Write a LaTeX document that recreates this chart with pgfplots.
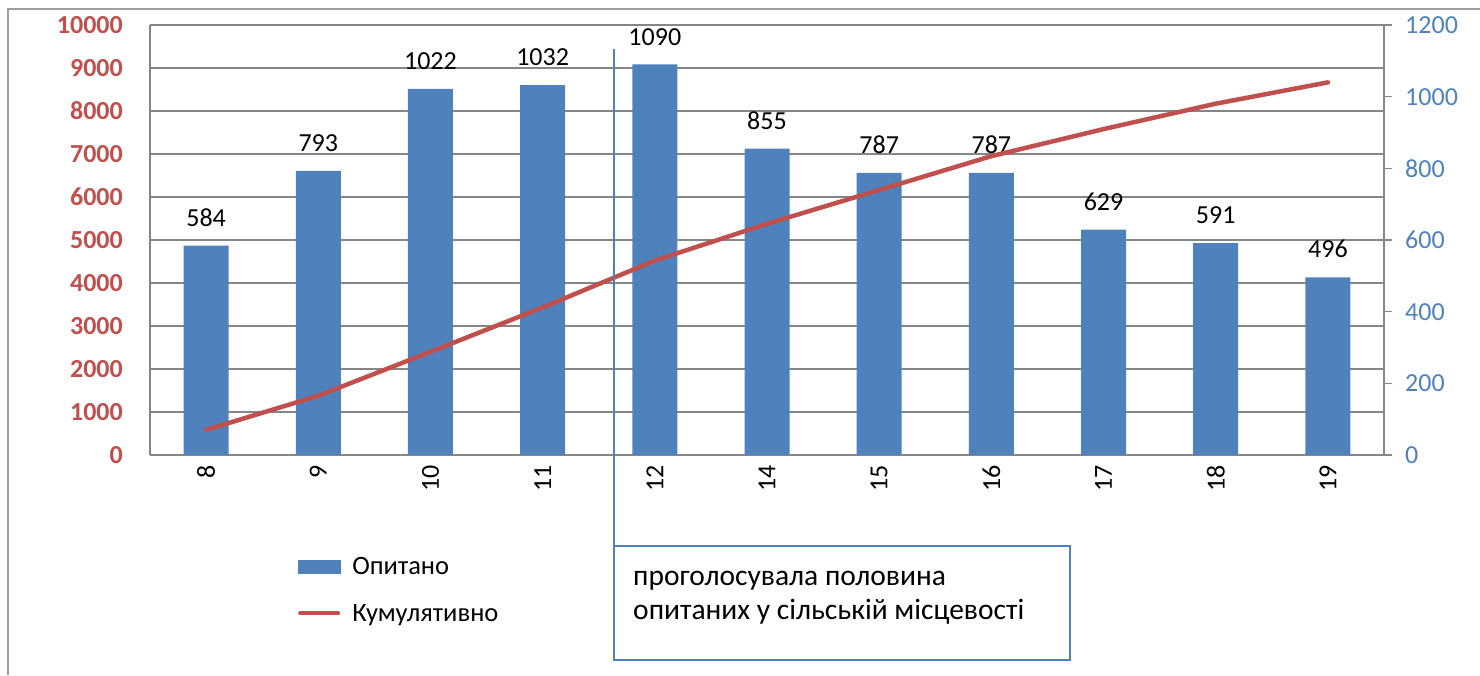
\documentclass[border=0pt]{standalone}
\usepackage{fontspec}
\setmainfont{Carlito}
\usepackage{pgfplots}
\usepackage{pgfplotstable}
\pgfplotsset{compat=1.18}
\definecolor{barblue}{HTML}{4F81BD}
\definecolor{linered}{HTML}{C0504D}
\definecolor{gridgray}{HTML}{868686}
\pgfplotsset{/pgf/number format/1000 sep={}, /pgf/number format/assume math mode=true}
\pgfplotstableread{
idx lab val cum
0 8 584 584
1 9 793 1377
2 10 1022 2399
3 11 1032 3431
4 12 1090 4521
5 14 855 5376
6 15 787 6163
7 16 787 6950
8 17 629 7579
9 18 591 8170
10 19 496 8666
}\data
\newcommand{\numfont}{\fontsize{26}{30}\selectfont}
\begin{document}
\begin{tikzpicture}
\path[use as bounding box] (0pt,0pt) rectangle (1480pt,675pt);
\draw[gray!75, line width=1.5pt] (8pt,0pt) -- (8pt,666pt) -- (1480pt,666pt);
\pgfplotsset{base/.style={at={(150pt,220pt)}, anchor=south west, width=1234pt, height=430pt, scale only axis, xmin=-0.5, xmax=10.5}}
% grid + left axis + x labels
\begin{axis}[base, ymin=0, ymax=10000, ytick={0,1000,...,10000},
  axis x line*=bottom, axis y line*=left,
  x axis line style={-}, y axis line style={-},
  ymajorgrids, grid style={gridgray, line width=1.3pt},
  axis line style={gridgray, line width=1.3pt},
  major tick length=0pt,
  scaled y ticks=false,
  xtick={0,...,10}, xticklabels={8,9,10,11,12,14,15,16,17,18,19},
  xticklabel style={rotate=90, anchor=east, inner sep=0pt, font=\numfont, xshift=-10pt},
  yticklabel style={font=\bfseries\numfont, text=linered, anchor=east, inner sep=0pt, xshift=-27pt},
]
\addplot[draw=none] coordinates {(0,0)};
\end{axis}
% bars, right axis
\begin{axis}[base, ymin=0, ymax=1200, ytick={0,200,...,1200},
  axis y line*=right, axis x line=none, y axis line style={-},
  axis line style={gridgray, line width=1.3pt},
  ytick style={gridgray, line width=1.3pt},
  tick align=outside, major tick length=8pt,
  scaled y ticks=false,
  yticklabel style={font=\numfont, text=barblue, anchor=west, inner sep=0pt, xshift=13pt},
  ybar, bar width=45pt,
]
\addplot[fill=barblue, draw=none, nodes near coords,
  every node near coord/.append style={anchor=south, inner sep=0pt, yshift=19pt, font=\numfont, text=black}]
  table[x=idx, y=val] {\data};
\end{axis}
% cumulative line + legend
\begin{axis}[base, ymin=0, ymax=10000, hide axis,
  legend style={draw=none, fill=none, inner sep=0pt, outer sep=0pt,
    at={(axis description cs:0.1199,-0.238)}, anchor=north west,
    row sep=28pt, column sep=12pt, font=\fontsize{26.5}{30}\selectfont,
    nodes={inner sep=0pt}},
  legend cell align=left,
]
\addlegendimage{legend image code/.code={\fill[barblue] (0pt,-6.5pt) rectangle (42pt,6.5pt);}}
\addlegendentry{Опитано}
\addplot[linered, line width=4.5pt, line cap=round, line join=round,
  legend image code/.code={\draw[linered, line width=4pt, line cap=round] (2pt,0pt) -- (40pt,0pt);}]
  table[x=idx, y=cum] {\data};
\addlegendentry{Кумулятивно}
\end{axis}
% annotation
\draw[barblue, line width=1.5pt] (614pt,626pt) -- (614pt,129pt);
\draw[barblue, line width=1.5pt] (614pt,129pt) rectangle (1070pt,15pt);
\node[anchor=base west, inner sep=0pt, font=\fontsize{29.5}{34}\selectfont] at (633pt,90pt) {проголосувала половина};
\node[anchor=base west, inner sep=0pt, font=\fontsize{29.5}{34}\selectfont] at (633pt,56pt) {опитаних у сільській місцевості};
\end{tikzpicture}
\end{document}
